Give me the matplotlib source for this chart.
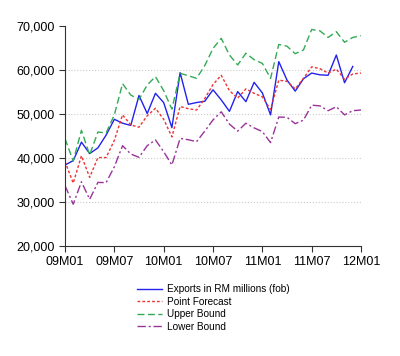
import numpy as np
import matplotlib
matplotlib.use('Agg')
import matplotlib.pyplot as plt
from matplotlib.ticker import FuncFormatter

plt.rcParams['font.family'] = ['Liberation Sans', 'DejaVu Sans']

# monthly values, 09M01 .. 11M12 (actual) and 09M01 .. 12M01 (forecast bands)
exports = [38400, 39400, 43600, 41000, 42300, 45200, 48800, 47900, 47400, 54200,
           50100, 54700, 52600, 46900, 59400, 52200, 52600, 52900, 55500, 53200,
           50600, 55100, 52800, 57200, 54800, 49800, 61900, 57700, 55200, 58000,
           59300, 58900, 58800, 63400, 57100, 60800]
point = [39200, 34300, 40500, 35600, 40100, 40100, 44000, 49800, 47500, 47000,
         49600, 51300, 48800, 44800, 51700, 51200, 50900, 53500, 56700, 58800,
         55300, 53600, 55700, 54700, 53900, 51000, 57700, 57400, 55700, 58100,
         60700, 60300, 59300, 60200, 57900, 59100, 59300]
upper = [44400, 39300, 46300, 40700, 45900, 45700, 49800, 56900, 54300, 53300,
         56600, 58500, 55300, 51100, 59250, 58700, 58100, 61000, 64900, 67200,
         63400, 61150, 63800, 62350, 61500, 58100, 65800, 65400, 63700, 64550,
         69200, 68900, 67400, 68700, 66300, 67400, 67800]
lower = [33700, 29500, 34600, 30600, 34450, 34400, 38000, 42800, 40900, 40150,
         42800, 44100, 41450, 38400, 44450, 44150, 43700, 46100, 48650, 50500,
         47700, 46100, 47900, 46850, 46000, 43500, 49300, 49250, 47800, 48600,
         52000, 51850, 50750, 51650, 49800, 50750, 50900]

tick_labels = ['09M01', '09M07', '10M01', '10M07', '11M01', '11M07', '12M01']

fig = plt.figure(figsize=(4.0, 3.56), dpi=100)
ax = fig.add_axes([0.1625, 0.309, 0.74, 0.618])

ax.plot(np.arange(len(exports)), exports, color='#2222ee', lw=1.0,
        label='Exports in RM millions (fob)')
ax.plot(np.arange(len(point)), point, color='#ee3333', lw=1.0,
        linestyle=(0, (2, 1.5)), label='Point Forecast')
ax.plot(np.arange(len(upper)), upper, color='#33aa55', lw=1.0,
        linestyle=(0, (5, 2.5)), label='Upper Bound')
ax.plot(np.arange(len(lower)), lower, color='#993399', lw=1.0,
        linestyle=(0, (6, 2, 1.5, 2)), label='Lower Bound')

ax.set_xlim(0, 36)
ax.set_ylim(20000, 70000)
ax.set_xticks(np.arange(0, 37, 6))
ax.set_xticklabels(tick_labels)
ax.set_yticks(np.arange(20000, 70001, 10000))
ax.yaxis.set_major_formatter(FuncFormatter(lambda v, p: '{:,.0f}'.format(v)))
ax.tick_params(labelsize=9, length=4, width=0.8, color='#333333')

for y in [30000, 40000, 50000, 60000]:
    ax.axhline(y, color='#cccccc', lw=0.8, linestyle=':', zorder=0)

ax.spines['top'].set_visible(False)
ax.spines['right'].set_visible(False)
ax.spines['left'].set_color('#333333')
ax.spines['bottom'].set_color('#333333')

fig.legend(loc='upper left', bbox_to_anchor=(0.343, 0.202), frameon=False,
           fontsize=7.2, handlelength=2.5, handletextpad=0.5,
           labelspacing=0.25, borderpad=0, borderaxespad=0)

fig.savefig('out.png', dpi=100)
